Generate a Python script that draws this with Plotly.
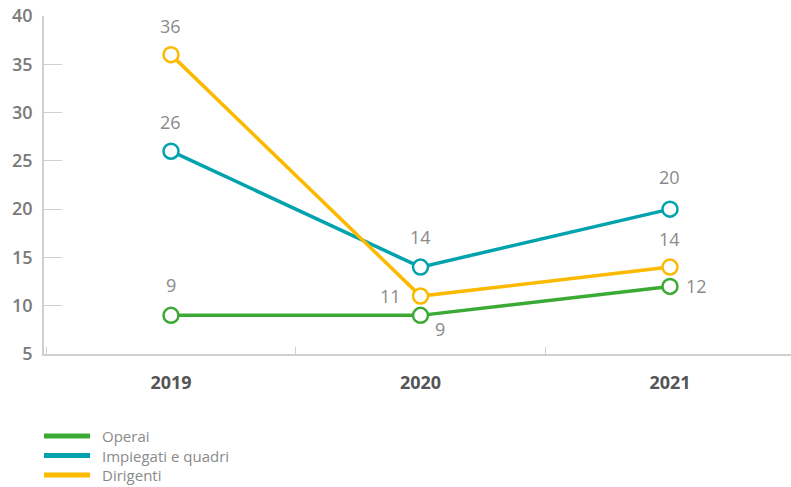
import plotly.graph_objects as go

# Turnover rate by employee category, 2019-2021
years = ["2019", "2020", "2021"]
operai = [9, 9, 12]
impiegati = [26, 14, 20]
dirigenti = [36, 11, 14]
series_names = ["Operai", "Impiegati e quadri", "Dirigenti"]
y_ticks = [5, 10, 15, 20, 25, 30, 35, 40]

colors = ["#3aaa35", "#00a3ad", "#fbb900"]
series = [operai, impiegati, dirigenti]

# value label offsets (xshift, yshift) per series and year
label_offsets = [
    [(0, 30), (20, -14), (27, 0)],
    [(0, 29), (0, 30), (0, 32)],
    [(0, 29), (-30, 0), (0, 28)],
]

FONT = "Open Sans"
W, H = 791, 487
M_L, M_R, M_T, M_B = 44, 0, 16, 133

fig = go.Figure()
for name, vals, col in zip(series_names, series, colors):
    fig.add_trace(go.Scatter(
        x=years, y=vals, name=name, mode="lines+markers",
        line=dict(color=col, width=3.5),
        marker=dict(symbol="circle", size=15, color="white",
                    line=dict(color=col, width=2.5)),
        showlegend=False, cliponaxis=False,
    ))

annotations = []
for vals, offs in zip(series, label_offsets):
    # category axis: annotation x is the category index
    for idx, (v, (dx, dy)) in enumerate(zip(vals, offs)):
        annotations.append(dict(
            x=idx, y=v, xref="x", yref="y", text=str(v), showarrow=False,
            xshift=dx, yshift=dy,
            font=dict(family=FONT, size=18, color="#8a8a8a"),
        ))

# legend drawn as line swatches with labels below the plot
pw = W - M_L - M_R
ph = H - M_T - M_B


def px_x(px):
    return (px - M_L) / pw


def px_y(py):
    return (H - M_B - py) / ph


ROW0, ROW_STEP = 436, 19.5
shapes = []
for i, col in enumerate(colors):
    ly = px_y(ROW0 + ROW_STEP * i)
    shapes.append(dict(type="line", xref="paper", yref="paper",
                       x0=px_x(44), x1=px_x(90), y0=ly, y1=ly,
                       line=dict(color=col, width=5)))
annotations.append(dict(
    x=px_x(100), y=px_y(ROW0 + ROW_STEP), xref="paper", yref="paper",
    text="<br>".join(series_names), align="left",
    showarrow=False, xanchor="left", yanchor="middle",
    font=dict(family=FONT, size=15, color="#8a8a8a"),
))

fig.update_layout(
    width=W, height=H,
    margin=dict(l=M_L, r=M_R, t=M_T, b=M_B),
    paper_bgcolor="white", plot_bgcolor="white",
    font=dict(family=FONT),
    xaxis=dict(
        type="category", range=[-0.509, 2.485],
        showgrid=False, zeroline=False,
        showline=True, linecolor="#d0d0d0", linewidth=1.5,
        ticks="inside", tickson="boundaries", ticklen=7,
        tickcolor="#d0d0d0", tickwidth=1,
        tickfont=dict(family=FONT, size=18, color="#555555", weight=700),
        ticklabelstandoff=12,
    ),
    yaxis=dict(
        range=[5, 40], tickvals=y_ticks,
        showgrid=False, zeroline=False,
        showline=True, linecolor="#d0d0d0", linewidth=1.5,
        ticks="inside", ticklen=18, tickcolor="#d0d0d0", tickwidth=1,
        tickfont=dict(family=FONT, size=18, color="#7a7a7a", weight=600),
        ticklabelstandoff=6,
    ),
    shapes=shapes,
    annotations=annotations,
)

fig.write_html("out.html")
